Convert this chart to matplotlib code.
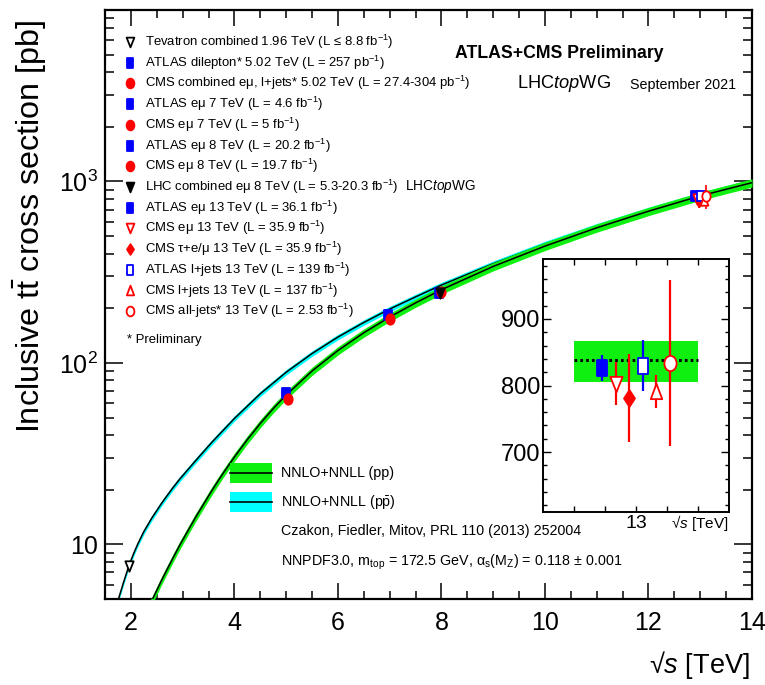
import numpy as np
import matplotlib
matplotlib.use("Agg")
import matplotlib.pyplot as plt
from matplotlib import font_manager
from matplotlib.path import Path
from matplotlib.patches import Rectangle
from matplotlib.ticker import MultipleLocator, LogLocator, NullFormatter, FixedLocator

# pick a condensed sans if there is one
installed = {f.name for f in font_manager.fontManager.ttflist}
NARROW = "Liberation Sans Narrow" if "Liberation Sans Narrow" in installed else "Liberation Sans"
K = 1.0 if NARROW == "Liberation Sans Narrow" else 0.82

plt.rcParams["font.family"] = [NARROW, "DejaVu Sans"]
plt.rcParams["mathtext.fontset"] = "custom"
plt.rcParams["mathtext.rm"] = NARROW
plt.rcParams["mathtext.it"] = NARROW + ":italic"
plt.rcParams["mathtext.bf"] = NARROW + ":bold"
plt.rcParams["mathtext.sf"] = "Liberation Sans"
plt.rcParams["mathtext.default"] = "regular"

# NNLO+NNLL predictions, sqrt(s) [TeV] vs sigma [pb]
pp_sqrts = [2.30, 2.42, 2.60, 2.80, 2.95, 3.25, 3.56, 3.78, 4.00, 4.25, 4.50, 4.75,
            5.00, 5.50, 6.00, 6.50, 7.00, 7.50, 8.00, 9.0, 10.0, 11.0, 12.0, 13.0, 14.0]
pp_xsec = [4.2, 5.0, 6.4, 8.28, 9.97, 14.1, 19.7, 24.6, 30.3, 37.8, 46.4, 56.0,
           66.5, 90.2, 117.0, 146.5, 178.9, 214.0, 253.0, 340.0, 440.0, 555.0, 685.0, 832.0, 984.0]
ppbar_sqrts = [1.70, 1.76, 1.86, 1.96, 2.05, 2.13, 2.25, 2.40, 2.60, 2.80, 2.95, 3.25, 3.56,
               4.00, 4.50, 5.00, 5.50, 6.00, 6.50, 7.00, 7.50, 8.00, 9.0, 10.0, 11.0, 12.0, 13.0, 14.0]
ppbar_xsec = [4.35, 5.0, 6.2, 7.6, 8.85, 10.0, 11.75, 13.9, 16.95, 20.3, 23.0, 28.9, 36.4,
              49.4, 67.6, 88.8, 112.6, 138.8, 167.0, 198.0, 231.0, 268.5, 352.0, 452.0, 566.0, 696.0, 842.0, 995.0]
pp_unc = (0.055, 0.05)      # relative (down, up)
ppbar_unc = (0.035, 0.035)

# 13 TeV prediction shown in the zoom box
band13_lo, band13_hi, band13_mid = 806.0, 867.0, 838.0

# measurements
meas_label = [
    "Tevatron combined 1.96 TeV (L ≤ 8.8 fb$^{-1}$)",
    "ATLAS dilepton* 5.02 TeV (L = 257 pb$^{-1}$)",
    "CMS combined eμ, l+jets* 5.02 TeV (L = 27.4-304 pb$^{-1}$)",
    "ATLAS eμ 7 TeV (L = 4.6 fb$^{-1}$)",
    "CMS eμ 7 TeV (L = 5 fb$^{-1}$)",
    "ATLAS eμ 8 TeV (L = 20.2 fb$^{-1}$)",
    "CMS eμ 8 TeV (L = 19.7 fb$^{-1}$)",
    "LHC combined eμ 8 TeV (L = 5.3-20.3 fb$^{-1}$)",
    "ATLAS eμ 13 TeV (L = 36.1 fb$^{-1}$)",
    "CMS eμ 13 TeV (L = 35.9 fb$^{-1}$)",
    "CMS τ+e/μ 13 TeV (L = 35.9 fb$^{-1}$)",
    "ATLAS l+jets 13 TeV (L = 139 fb$^{-1}$)",
    "CMS l+jets 13 TeV (L = 137 fb$^{-1}$)",
    "CMS all-jets* 13 TeV (L = 2.53 fb$^{-1}$)",
]
meas_sqrts = [1.96, 4.99, 5.04, 6.97, 7.01, 7.95, 7.99, 7.97,
              12.89, 12.935, 12.978, 13.022, 13.065, 13.11]
meas_xsec = [7.60, 68.2, 63.0, 182.9, 173.6, 242.9, 244.9, 241.5,
             826.4, 803.0, 781.0, 830.0, 791.0, 834.0]
meas_err = [0.41, 3.3, 4.1, 7.1, 6.4, 8.5, 9.3, 8.5,
            20.0, 33.0, 66.0, 38.0, 25.0, 125.0]
meas_color = ["black", "blue", "red", "blue", "red", "blue", "red", "black",
              "blue", "red", "red", "blue", "red", "red"]
meas_marker = ["v", "s", "o", "s", "o", "s", "o", "v", "s", "v", "D", "s", "^", "o"]
meas_filled = [False, True, True, True, True, True, True, True,
               True, False, True, False, False, False]


def marker_path(kind):
    # markers a bit narrower than tall
    if kind == "s":
        v = np.array([(-1, -1), (1, -1), (1, 1), (-1, 1), (-1, -1)]) * [0.68, 1]
        return Path(v, closed=True)
    if kind == "D":
        v = np.array([(0, 1), (1, 0), (0, -1), (-1, 0), (0, 1)]) * [0.65, 1]
        return Path(v, closed=True)
    if kind == "^":
        v = np.array([(0, 1), (-1, -1), (1, -1), (0, 1)]) * [0.75, 1]
        return Path(v, closed=True)
    if kind == "v":
        v = np.array([(0, -1), (-1, 1), (1, 1), (0, -1)]) * [0.8, 1]
        return Path(v, closed=True)
    c = Path.unit_circle()
    return Path(c.vertices * [0.8, 1], c.codes)


def marker_kw(i, size):
    kw = dict(marker=marker_path(meas_marker[i]), ms=size, mec=meas_color[i], mew=1.3,
              mfc=meas_color[i] if meas_filled[i] else "white", ls="none")
    if meas_marker[i] == "D":
        kw["ms"] = size * 1.1
    return kw


W, H = 765, 685
fig = plt.figure(figsize=(W / 100, H / 100), dpi=100)
ax = fig.add_axes([105 / W, 86 / H, 647 / W, 589 / H])
ax.set_yscale("log")
ax.set_xlim(1.5, 14)
ax.set_ylim(5, 8800)

ppx = np.array(pp_sqrts)
ppy = np.array(pp_xsec)
pbx = np.array(ppbar_sqrts)
pby = np.array(ppbar_xsec)
ax.fill_between(pbx, pby * (1 - ppbar_unc[0]), pby * (1 + ppbar_unc[1]), color="#00ffff", lw=0, zorder=1)
ax.plot(pbx, pby, color="black", lw=1.1, zorder=2)
ax.fill_between(ppx, ppy * (1 - pp_unc[0]), ppy * (1 + pp_unc[1]), color="#10f010", lw=0, zorder=3)
ax.plot(ppx, ppy, color="black", lw=1.1, zorder=4)

for i in range(len(meas_label)):
    ax.errorbar(meas_sqrts[i], meas_xsec[i], yerr=meas_err[i], fmt="none",
                ecolor=meas_color[i], elinewidth=1.2, capsize=0, zorder=5)
    ax.plot(meas_sqrts[i], meas_xsec[i], zorder=6, **marker_kw(i, 7.5))

# ROOT-style axes
for s in ax.spines.values():
    s.set_linewidth(1.6)
ax.xaxis.set_major_locator(MultipleLocator(2))
ax.xaxis.set_minor_locator(MultipleLocator(0.5))
ax.yaxis.set_major_locator(FixedLocator([10, 100, 1000]))
ax.yaxis.set_minor_locator(LogLocator(base=10, subs=np.arange(2, 10)))
ax.yaxis.set_minor_formatter(NullFormatter())
ax.set_yticklabels(["10", "$10^{2}$", "$10^{3}$"])
ax.tick_params(which="both", direction="in", top=True, right=True, width=1.1, labelsize=18)
ax.tick_params(axis="x", which="major", length=11.5, pad=9)
ax.tick_params(axis="x", which="minor", length=5.8)
ax.tick_params(axis="y", which="major", length=13, pad=5)
ax.tick_params(axis="y", which="minor", length=6.5)

fig.text(30 / W, 1 - 226 / H, r"Inclusive t$\bar{\mathsf{t}}$ cross section [pb]", rotation=90,
         ha="center", va="center", fontsize=23.3, family=["Liberation Sans", "DejaVu Sans"])
fig.text(750 / W, 1 - 665 / H, "√$\\mathit{s}$ [TeV]", ha="right", va="center", fontsize=19.5)

# measurement key
for i, lab in enumerate(meas_label):
    yy = 1 - (42 + 20.7 * i) / H
    ax.plot([130 / W], [yy], transform=fig.transFigure, clip_on=False, zorder=7, **marker_kw(i, 7))
    fig.text(145 / W, yy, lab, ha="left", va="center", fontsize=11.5 * K)
fig.text(405 / W, 1 - (42 + 20.7 * 7) / H, "LHC$\\mathit{top}$WG", ha="left", va="center", fontsize=12 * K)
fig.text(127 / W, 1 - 340 / H, "* Preliminary", ha="left", va="center", fontsize=11.5 * K)

fig.text(455 / W, 1 - 53 / H, "ATLAS+CMS Preliminary", ha="left", va="center",
         fontsize=15.5 * K, fontweight="bold")
fig.text(517 / W, 1 - 83 / H, "LHC$\\mathit{top}$WG", ha="left", va="center", fontsize=16 * K)
fig.text(630 / W, 1 - 85 / H, "September 2021", ha="left", va="center", fontsize=12.5 * K)

# theory key
for y0, col, lab in [(463, "#10f010", "NNLO+NNLL (pp)"),
                     (492, "#00ffff", "NNLO+NNLL (p$\\bar{\\mathrm{p}}$)")]:
    fig.patches.append(Rectangle((230 / W, 1 - (y0 + 20) / H), 42 / W, 20 / H,
                                 transform=fig.transFigure, color=col, lw=0))
    fig.lines.append(plt.Line2D([230 / W, 272 / W], [1 - (y0 + 10) / H] * 2,
                                transform=fig.transFigure, color="black", lw=1.2))
    fig.text(281 / W, 1 - (y0 + 10) / H, lab, ha="left", va="center", fontsize=12.5 * K)
fig.text(281 / W, 1 - 531 / H, "Czakon, Fiedler, Mitov, PRL 110 (2013) 252004",
         ha="left", va="center", fontsize=12.5 * K)
fig.text(281 / W, 1 - 562 / H,
         "NNPDF3.0, m$_{top}$ = 172.5 GeV, α$_{s}$(M$_{Z}$) = 0.118 ± 0.001",
         ha="left", va="center", fontsize=12.5 * K)

# zoom on 13 TeV
ins = fig.add_axes([543 / W, 173 / H, 186 / W, 253 / H])
ins.set_facecolor("white")
ins.set_xlim(12.7, 13.3)
ins.set_ylim(610, 990)
ins.fill_between([12.8, 13.2], band13_lo, band13_hi, color="#10f010", lw=0, zorder=1)
ins.plot([12.8, 13.2], [band13_mid] * 2, color="black", lw=2.2, ls=(0, (0.9, 1.0)), zorder=2)
for i in range(8, len(meas_label)):
    ins.errorbar(meas_sqrts[i], meas_xsec[i], yerr=meas_err[i], fmt="none",
                 ecolor=meas_color[i], elinewidth=1.6, capsize=0, zorder=3)
    ins.plot(meas_sqrts[i], meas_xsec[i], zorder=4, **marker_kw(i, 11))
for s in ins.spines.values():
    s.set_linewidth(1.4)
ins.xaxis.set_major_locator(FixedLocator([13.0]))
ins.xaxis.set_minor_locator(FixedLocator([12.8, 12.9, 13.1, 13.2]))
ins.set_xticklabels(["13"])
ins.yaxis.set_major_locator(MultipleLocator(100))
ins.yaxis.set_minor_locator(MultipleLocator(20))
ins.tick_params(which="both", direction="in", top=True, right=True, width=1.0)
ins.tick_params(axis="x", which="both", length=4, pad=2, labelsize=14)
ins.tick_params(axis="y", which="major", length=6, pad=2, labelsize=17)
ins.tick_params(axis="y", which="minor", length=3)
fig.text(729 / W, 1 - 523 / H, "√$\\mathit{s}$ [TeV]", ha="right", va="center", fontsize=11)

fig.savefig("out.png", dpi=100)
